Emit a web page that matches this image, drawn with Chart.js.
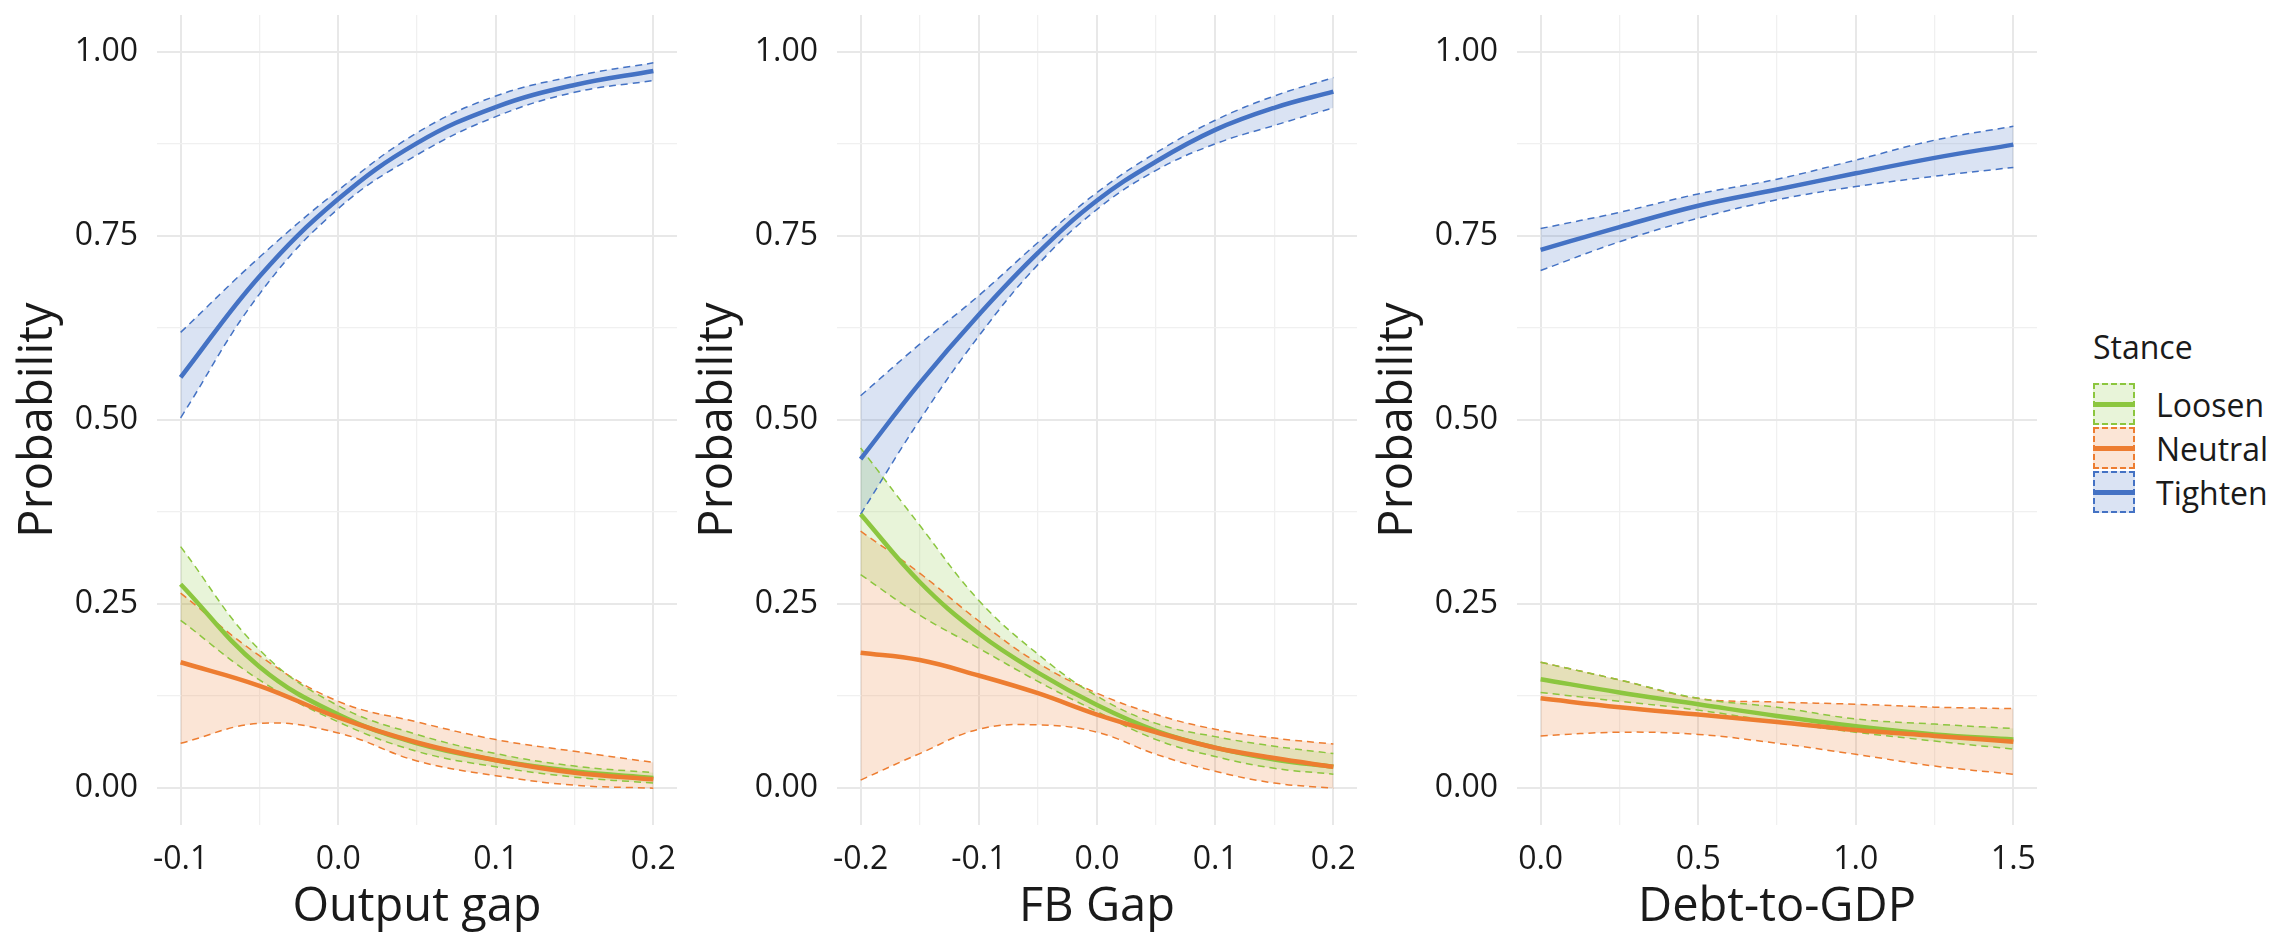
<!DOCTYPE html>
<html>
<head>
<meta charset="utf-8">
<title>Stance probabilities</title>
<script src="https://cdn.jsdelivr.net/npm/chart.js@4.4.1/dist/chart.umd.min.js"></script>
<style>
    body { margin: 0; background: #fff; width: 2281px; height: 940px; position: relative; overflow: hidden; font-family: 'Open Sans', sans-serif; color: #1a1a1a; }
    canvas { position: absolute; top: 0; }
    #legend { position: absolute; left: 2093px; top: 322px; }
    #legend .title { font-size: 32px; line-height: 50px; height: 50px; margin-bottom: 10px; }
    #legend .item { display: flex; align-items: center; height: 44px; }
    #legend .key { width: 38px; height: 38px; border: 2px dashed; position: relative; }
    #legend .key .bar { position: absolute; left: 0; right: 0; top: 17px; height: 5px; }
    #legend .label { font-size: 32px; margin-left: 21px; }
</style>
</head>
<body>
<canvas id="outputGapChart" width="680" height="940" style="left:0px"></canvas>
<canvas id="fbGapChart" width="680" height="940" style="left:680px"></canvas>
<canvas id="debtChart" width="680" height="940" style="left:1360px"></canvas>
<div id="legend"></div>
<script>
// Stances
const stanceNames = ['Loosen', 'Neutral', 'Tighten'];
const stanceColors = ['#8CC63F', '#ED7D31', '#4472C4'];

// Probability axis
const probabilityTicks = [0, 0.25, 0.5, 0.75, 1];

// Panel 1: Output gap
const outputGapX = [-0.1, -0.05, 0, 0.05, 0.1, 0.15, 0.2];
const outputGapTicks = [-0.1, 0, 0.1, 0.2];
const outputGapLoosen = [0.277, 0.165, 0.100, 0.061, 0.038, 0.023, 0.014];
const outputGapLoosenLow = [0.228, 0.147, 0.090, 0.050, 0.029, 0.015, 0.007];
const outputGapLoosenHigh = [0.328, 0.188, 0.112, 0.073, 0.047, 0.030, 0.021];
const outputGapNeutral = [0.171, 0.139, 0.096, 0.062, 0.038, 0.021, 0.012];
const outputGapNeutralLow = [0.061, 0.088, 0.075, 0.037, 0.017, 0.004, 0.000];
const outputGapNeutralHigh = [0.265, 0.180, 0.118, 0.090, 0.066, 0.050, 0.035];
const outputGapTighten = [0.558, 0.695, 0.800, 0.876, 0.925, 0.955, 0.974];
const outputGapTightenLow = [0.503, 0.671, 0.787, 0.860, 0.912, 0.945, 0.961];
const outputGapTightenHigh = [0.619, 0.721, 0.812, 0.890, 0.940, 0.967, 0.985];

// Panel 2: FB Gap
const fbGapX = [-0.2, -0.15, -0.1, -0.05, 0, 0.05, 0.1, 0.15, 0.2];
const fbGapTicks = [-0.2, -0.1, 0, 0.1, 0.2];
const fbGapLoosen = [0.372, 0.280, 0.210, 0.157, 0.113, 0.078, 0.055, 0.039, 0.029];
const fbGapLoosenLow = [0.290, 0.235, 0.190, 0.145, 0.104, 0.066, 0.043, 0.027, 0.019];
const fbGapLoosenHigh = [0.462, 0.357, 0.255, 0.182, 0.125, 0.088, 0.070, 0.057, 0.047];
const fbGapNeutral = [0.184, 0.174, 0.153, 0.129, 0.100, 0.076, 0.055, 0.041, 0.029];
const fbGapNeutralLow = [0.011, 0.047, 0.080, 0.086, 0.076, 0.046, 0.023, 0.007, 0.000];
const fbGapNeutralHigh = [0.349, 0.292, 0.227, 0.170, 0.129, 0.100, 0.080, 0.068, 0.060];
const fbGapTighten = [0.447, 0.550, 0.643, 0.727, 0.798, 0.851, 0.894, 0.924, 0.946];
const fbGapTightenLow = [0.372, 0.500, 0.614, 0.711, 0.786, 0.839, 0.875, 0.900, 0.924];
const fbGapTightenHigh = [0.533, 0.603, 0.669, 0.741, 0.809, 0.863, 0.907, 0.940, 0.965];

// Panel 3: Debt-to-GDP
const debtX = [0, 0.25, 0.5, 0.75, 1, 1.25, 1.5];
const debtTicks = [0, 0.5, 1, 1.5];
const debtLoosen = [0.148, 0.130, 0.114, 0.098, 0.084, 0.073, 0.066];
const debtLoosenLow = [0.130, 0.118, 0.106, 0.090, 0.076, 0.064, 0.053];
const debtLoosenHigh = [0.171, 0.147, 0.122, 0.110, 0.094, 0.087, 0.081];
const debtNeutral = [0.122, 0.110, 0.100, 0.090, 0.079, 0.071, 0.063];
const debtNeutralLow = [0.071, 0.076, 0.073, 0.061, 0.046, 0.030, 0.019];
const debtNeutralHigh = [0.171, 0.147, 0.122, 0.117, 0.114, 0.110, 0.108];
const debtTighten = [0.731, 0.762, 0.791, 0.813, 0.835, 0.856, 0.874];
const debtTightenLow = [0.703, 0.742, 0.774, 0.799, 0.817, 0.831, 0.843];
const debtTightenHigh = [0.760, 0.782, 0.807, 0.827, 0.853, 0.880, 0.899];

const fontFamily = "'Open Sans', sans-serif";
const textColor = '#1a1a1a';

function hexToRgba(hex, alpha) {
    const n = parseInt(hex.slice(1), 16);
    return `rgba(${(n >> 16) & 255}, ${(n >> 8) & 255}, ${n & 255}, ${alpha})`;
}

function toPoints(xs, ys) {
    return xs.map((x, i) => ({ x: x, y: ys[i] }));
}

// major breaks plus the minor ones halfway between them
function withMinor(majors) {
    const all = [];
    majors.forEach((v, i) => {
        all.push(v);
        if (i < majors.length - 1) all.push((v + majors[i + 1]) / 2);
    });
    return all;
}

function isMajor(value, majors) {
    return majors.some(m => Math.abs(m - value) < 1e-9);
}

function gridOptions(majors) {
    return {
        drawTicks: false,
        color: ctx => isMajor(ctx.tick.value, majors) ? '#E8E8E8' : '#F0F0F0',
        lineWidth: ctx => isMajor(ctx.tick.value, majors) ? 2 : 1.3
    };
}

function buildDatasets(xs, series) {
    const bands = [];
    const lines = [];
    series.forEach(s => {
        bands.push({
            label: s.name + ' upper',
            data: toPoints(xs, s.high),
            borderColor: s.color,
            borderWidth: 1.5,
            borderDash: [7, 5],
            backgroundColor: hexToRgba(s.color, 0.2),
            fill: '+1',
            order: 5
        });
        bands.push({
            label: s.name + ' lower',
            data: toPoints(xs, s.low),
            borderColor: s.color,
            borderWidth: 1.5,
            borderDash: [7, 5],
            fill: false,
            order: 5
        });
    });
    // Neutral line sits on top of Loosen, like in the original
    const lineOrder = { Loosen: 1, Neutral: 0, Tighten: 2 };
    series.forEach(s => {
        lines.push({
            label: s.name,
            data: toPoints(xs, s.mean),
            borderColor: s.color,
            borderWidth: 4.5,
            fill: false,
            order: lineOrder[s.name]
        });
    });
    return bands.concat(lines);
}

function makePanel(canvasId, xTitle, xs, xTicks, decimals, series) {
    const range = xs[xs.length - 1] - xs[0];
    const xGrid = withMinor(xTicks);
    const yGrid = withMinor(probabilityTicks);

    new Chart(document.getElementById(canvasId), {
        type: 'line',
        data: { datasets: buildDatasets(xs, series) },
        options: {
            responsive: false,
            animation: false,
            layout: { padding: { top: 15, right: 3, left: 0, bottom: 0 } },
            elements: {
                point: { radius: 0 },
                line: { tension: 0.4 }
            },
            plugins: {
                legend: { display: false },
                tooltip: { enabled: false },
                filler: { drawTime: 'beforeDatasetsDraw' }
            },
            scales: {
                x: {
                    type: 'linear',
                    min: xs[0] - 0.05 * range,
                    max: xs[xs.length - 1] + 0.05 * range,
                    afterBuildTicks: scale => { scale.ticks = xGrid.map(v => ({ value: v })); },
                    afterFit: scale => {
                        scale.height = 115;
                        scale.paddingLeft = 0;
                        scale.paddingRight = 0;
                    },
                    border: { display: false },
                    grid: gridOptions(xTicks),
                    ticks: {
                        autoSkip: false,
                        maxRotation: 0,
                        padding: 16,
                        color: textColor,
                        font: { family: fontFamily, size: 32 },
                        callback: value => isMajor(value, xTicks) ? Number(value).toFixed(decimals) : ''
                    },
                    title: {
                        display: true,
                        text: xTitle,
                        color: textColor,
                        padding: { top: 0, bottom: 4 },
                        font: { family: fontFamily, size: 47 }
                    }
                },
                y: {
                    min: -0.05,
                    max: 1.05,
                    afterBuildTicks: scale => { scale.ticks = yGrid.map(v => ({ value: v })); },
                    afterFit: scale => {
                        scale.width = 157;
                        scale.paddingTop = 0;
                        scale.paddingBottom = 0;
                    },
                    border: { display: false },
                    grid: gridOptions(probabilityTicks),
                    ticks: {
                        padding: 19,
                        color: textColor,
                        font: { family: fontFamily, size: 32 },
                        callback: value => isMajor(value, probabilityTicks) ? Number(value).toFixed(2) : ''
                    },
                    title: {
                        display: true,
                        text: 'Probability',
                        color: textColor,
                        padding: { top: 10, bottom: 0 },
                        font: { family: fontFamily, size: 47 }
                    }
                }
            }
        }
    });
}

function stanceSeries(loosen, neutral, tighten) {
    const groups = [loosen, neutral, tighten];
    return stanceNames.map((name, i) => ({
        name: name,
        color: stanceColors[i],
        mean: groups[i][0],
        low: groups[i][1],
        high: groups[i][2]
    }));
}

makePanel('outputGapChart', 'Output gap', outputGapX, outputGapTicks, 1, stanceSeries(
    [outputGapLoosen, outputGapLoosenLow, outputGapLoosenHigh],
    [outputGapNeutral, outputGapNeutralLow, outputGapNeutralHigh],
    [outputGapTighten, outputGapTightenLow, outputGapTightenHigh]
));

makePanel('fbGapChart', 'FB Gap', fbGapX, fbGapTicks, 1, stanceSeries(
    [fbGapLoosen, fbGapLoosenLow, fbGapLoosenHigh],
    [fbGapNeutral, fbGapNeutralLow, fbGapNeutralHigh],
    [fbGapTighten, fbGapTightenLow, fbGapTightenHigh]
));

makePanel('debtChart', 'Debt-to-GDP', debtX, debtTicks, 1, stanceSeries(
    [debtLoosen, debtLoosenLow, debtLoosenHigh],
    [debtNeutral, debtNeutralLow, debtNeutralHigh],
    [debtTighten, debtTightenLow, debtTightenHigh]
));

// Legend
const legend = document.getElementById('legend');
legend.innerHTML = '<div class="title">Stance</div>';
stanceNames.forEach((name, i) => {
    const item = document.createElement('div');
    item.className = 'item';
    item.innerHTML = `<div class="key" style="border-color:${stanceColors[i]};background:${hexToRgba(stanceColors[i], 0.2)}">` +
        `<div class="bar" style="background:${stanceColors[i]}"></div></div>` +
        `<div class="label">${name}</div>`;
    legend.appendChild(item);
});
</script>
</body>
</html>
